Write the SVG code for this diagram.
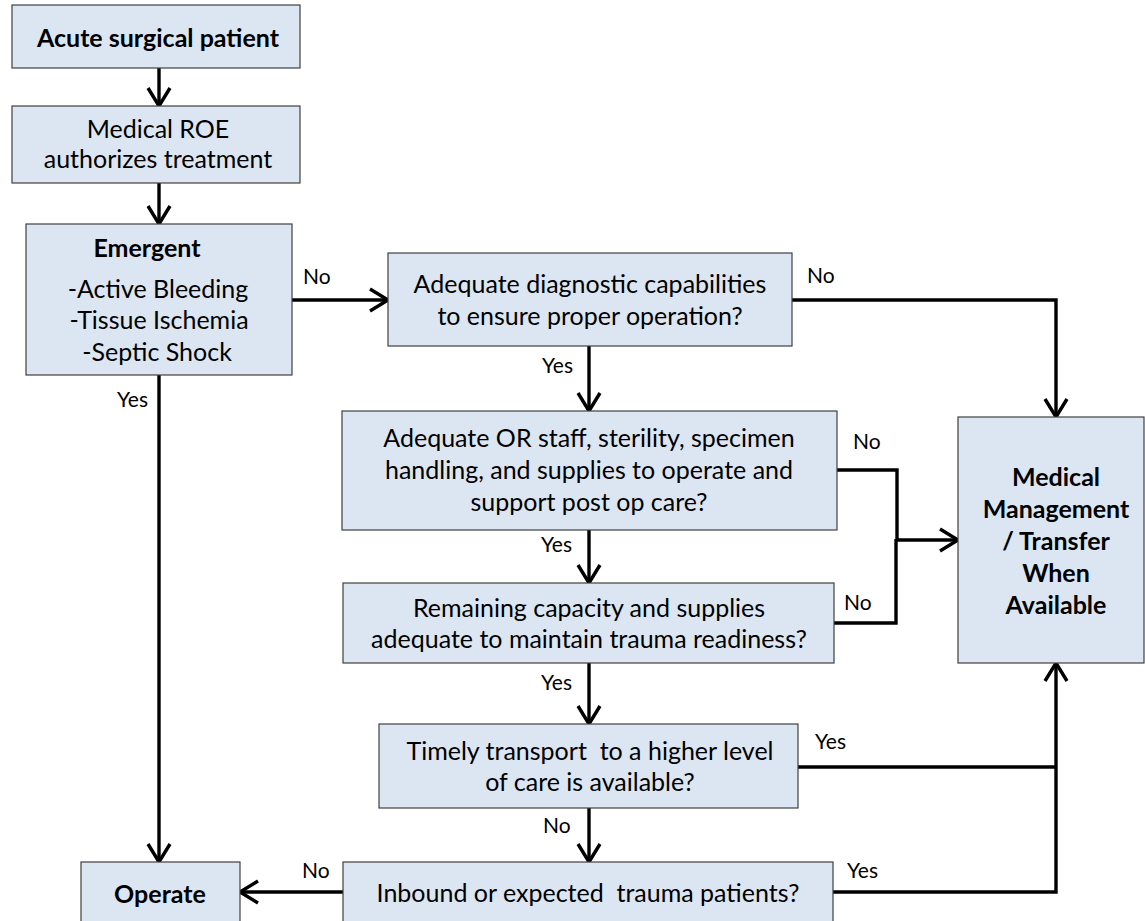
<svg xmlns="http://www.w3.org/2000/svg" width="1145" height="921" viewBox="0 0 1145 921">
<defs>
<marker id="arr" markerUnits="userSpaceOnUse" markerWidth="26" markerHeight="28" viewBox="0 0 26 28" refX="22" refY="14" orient="auto">
<path d="M4 3 L22 14 L4 25" fill="none" stroke="#000" stroke-width="3.4"/>
</marker>
</defs>
<style>
.box{fill:#dce6f2;stroke:#404040;stroke-width:1.2}
.t{font-family:Lato,"Liberation Sans",sans-serif;font-size:25px;fill:#000;text-anchor:middle}
.b{font-weight:bold}
.lbl{font-family:Lato,"Liberation Sans",sans-serif;font-size:21px;fill:#000}
.c{fill:none;stroke:#000;stroke-width:3.4}
</style>
<rect width="1145" height="921" fill="#fff"/>
<g id="connectors">
<path class="c" d="M159,68 V106" marker-end="url(#arr)"/>
<path class="c" d="M159,183 V224" marker-end="url(#arr)"/>
<path class="c" d="M159,375 V862" marker-end="url(#arr)"/>
<path class="c" d="M292,300 H388" marker-end="url(#arr)"/>
<path class="c" d="M792,300 H1056 V417" marker-end="url(#arr)"/>
<path class="c" d="M589,346 V411" marker-end="url(#arr)"/>
<path class="c" d="M837,470 H897 V541"/>
<path class="c" d="M834,623 H896 V539"/>
<path class="c" d="M896,540 H958" marker-end="url(#arr)"/>
<path class="c" d="M589,530 V583" marker-end="url(#arr)"/>
<path class="c" d="M589,663 V724" marker-end="url(#arr)"/>
<path class="c" d="M589,808 V862" marker-end="url(#arr)"/>
<path class="c" d="M798,767 H1056"/>
<path class="c" d="M833,892 H1056 V663" marker-end="url(#arr)"/>
<path class="c" d="M343,892 H240" marker-end="url(#arr)"/>
<text class="lbl" x="117" y="407">Yes</text>
<text class="lbl" x="303" y="284">No</text>
<text class="lbl" x="807" y="283">No</text>
<text class="lbl" x="542" y="373">Yes</text>
<text class="lbl" x="853" y="449">No</text>
<text class="lbl" x="541" y="552">Yes</text>
<text class="lbl" x="844" y="610">No</text>
<text class="lbl" x="541" y="690">Yes</text>
<text class="lbl" x="543" y="833">No</text>
<text class="lbl" x="815" y="749">Yes</text>
<text class="lbl" x="847" y="878">Yes</text>
<text class="lbl" x="302" y="878">No</text>
</g>
<g id="n1">
<rect class="box" x="12" y="5" width="288" height="63"/>
<text class="t b" x="158" y="47">Acute surgical patient</text>
</g>
<g id="n2">
<rect class="box" x="12" y="106" width="288" height="77"/>
<text class="t" x="158" y="138">Medical ROE</text>
<text class="t" x="158" y="168">authorizes treatment</text>
</g>
<g id="n3">
<rect class="box" x="26" y="224" width="266" height="151"/>
<text class="t b" x="147" y="257">Emergent</text>
<text class="t" x="158" y="298">-Active Bleeding</text>
<text class="t" x="159" y="329">-Tissue Ischemia</text>
<text class="t" x="157" y="361">-Septic Shock</text>
</g>
<g id="n4">
<rect class="box" x="388" y="253" width="404" height="93"/>
<text class="t" x="590" y="293">Adequate diagnostic capabilities</text>
<text class="t" x="590" y="325">to ensure proper operation?</text>
</g>
<g id="n5">
<rect class="box" x="342" y="411" width="495" height="119"/>
<text class="t" x="589" y="447">Adequate OR staff, sterility, specimen</text>
<text class="t" x="589" y="479">handling, and supplies to operate and</text>
<text class="t" x="589" y="511">support post op care?</text>
</g>
<g id="n6">
<rect class="box" x="343" y="583" width="491" height="80"/>
<text class="t" x="589" y="617">Remaining capacity and supplies</text>
<text class="t" x="589" y="648">adequate to maintain trauma readiness?</text>
</g>
<g id="n7">
<rect class="box" x="379" y="724" width="419" height="84"/>
<text class="t" x="590" y="760" xml:space="preserve">Timely transport  to a higher level</text>
<text class="t" x="590" y="791">of care is available?</text>
</g>
<g id="n8">
<rect class="box" x="343" y="862" width="490" height="70"/>
<text class="t" x="588" y="902" xml:space="preserve">Inbound or expected  trauma patients?</text>
</g>
<g id="n9">
<rect class="box" x="81" y="862" width="159" height="70"/>
<text class="t b" x="160" y="903">Operate</text>
</g>
<g id="n10">
<rect class="box" x="958" y="417" width="186" height="246"/>
<text class="t b" x="1056" y="486">Medical</text>
<text class="t b" x="1056" y="518">Management</text>
<text class="t b" x="1056" y="550">/ Transfer</text>
<text class="t b" x="1056" y="582">When</text>
<text class="t b" x="1056" y="614">Available</text>
</g>
</svg>
